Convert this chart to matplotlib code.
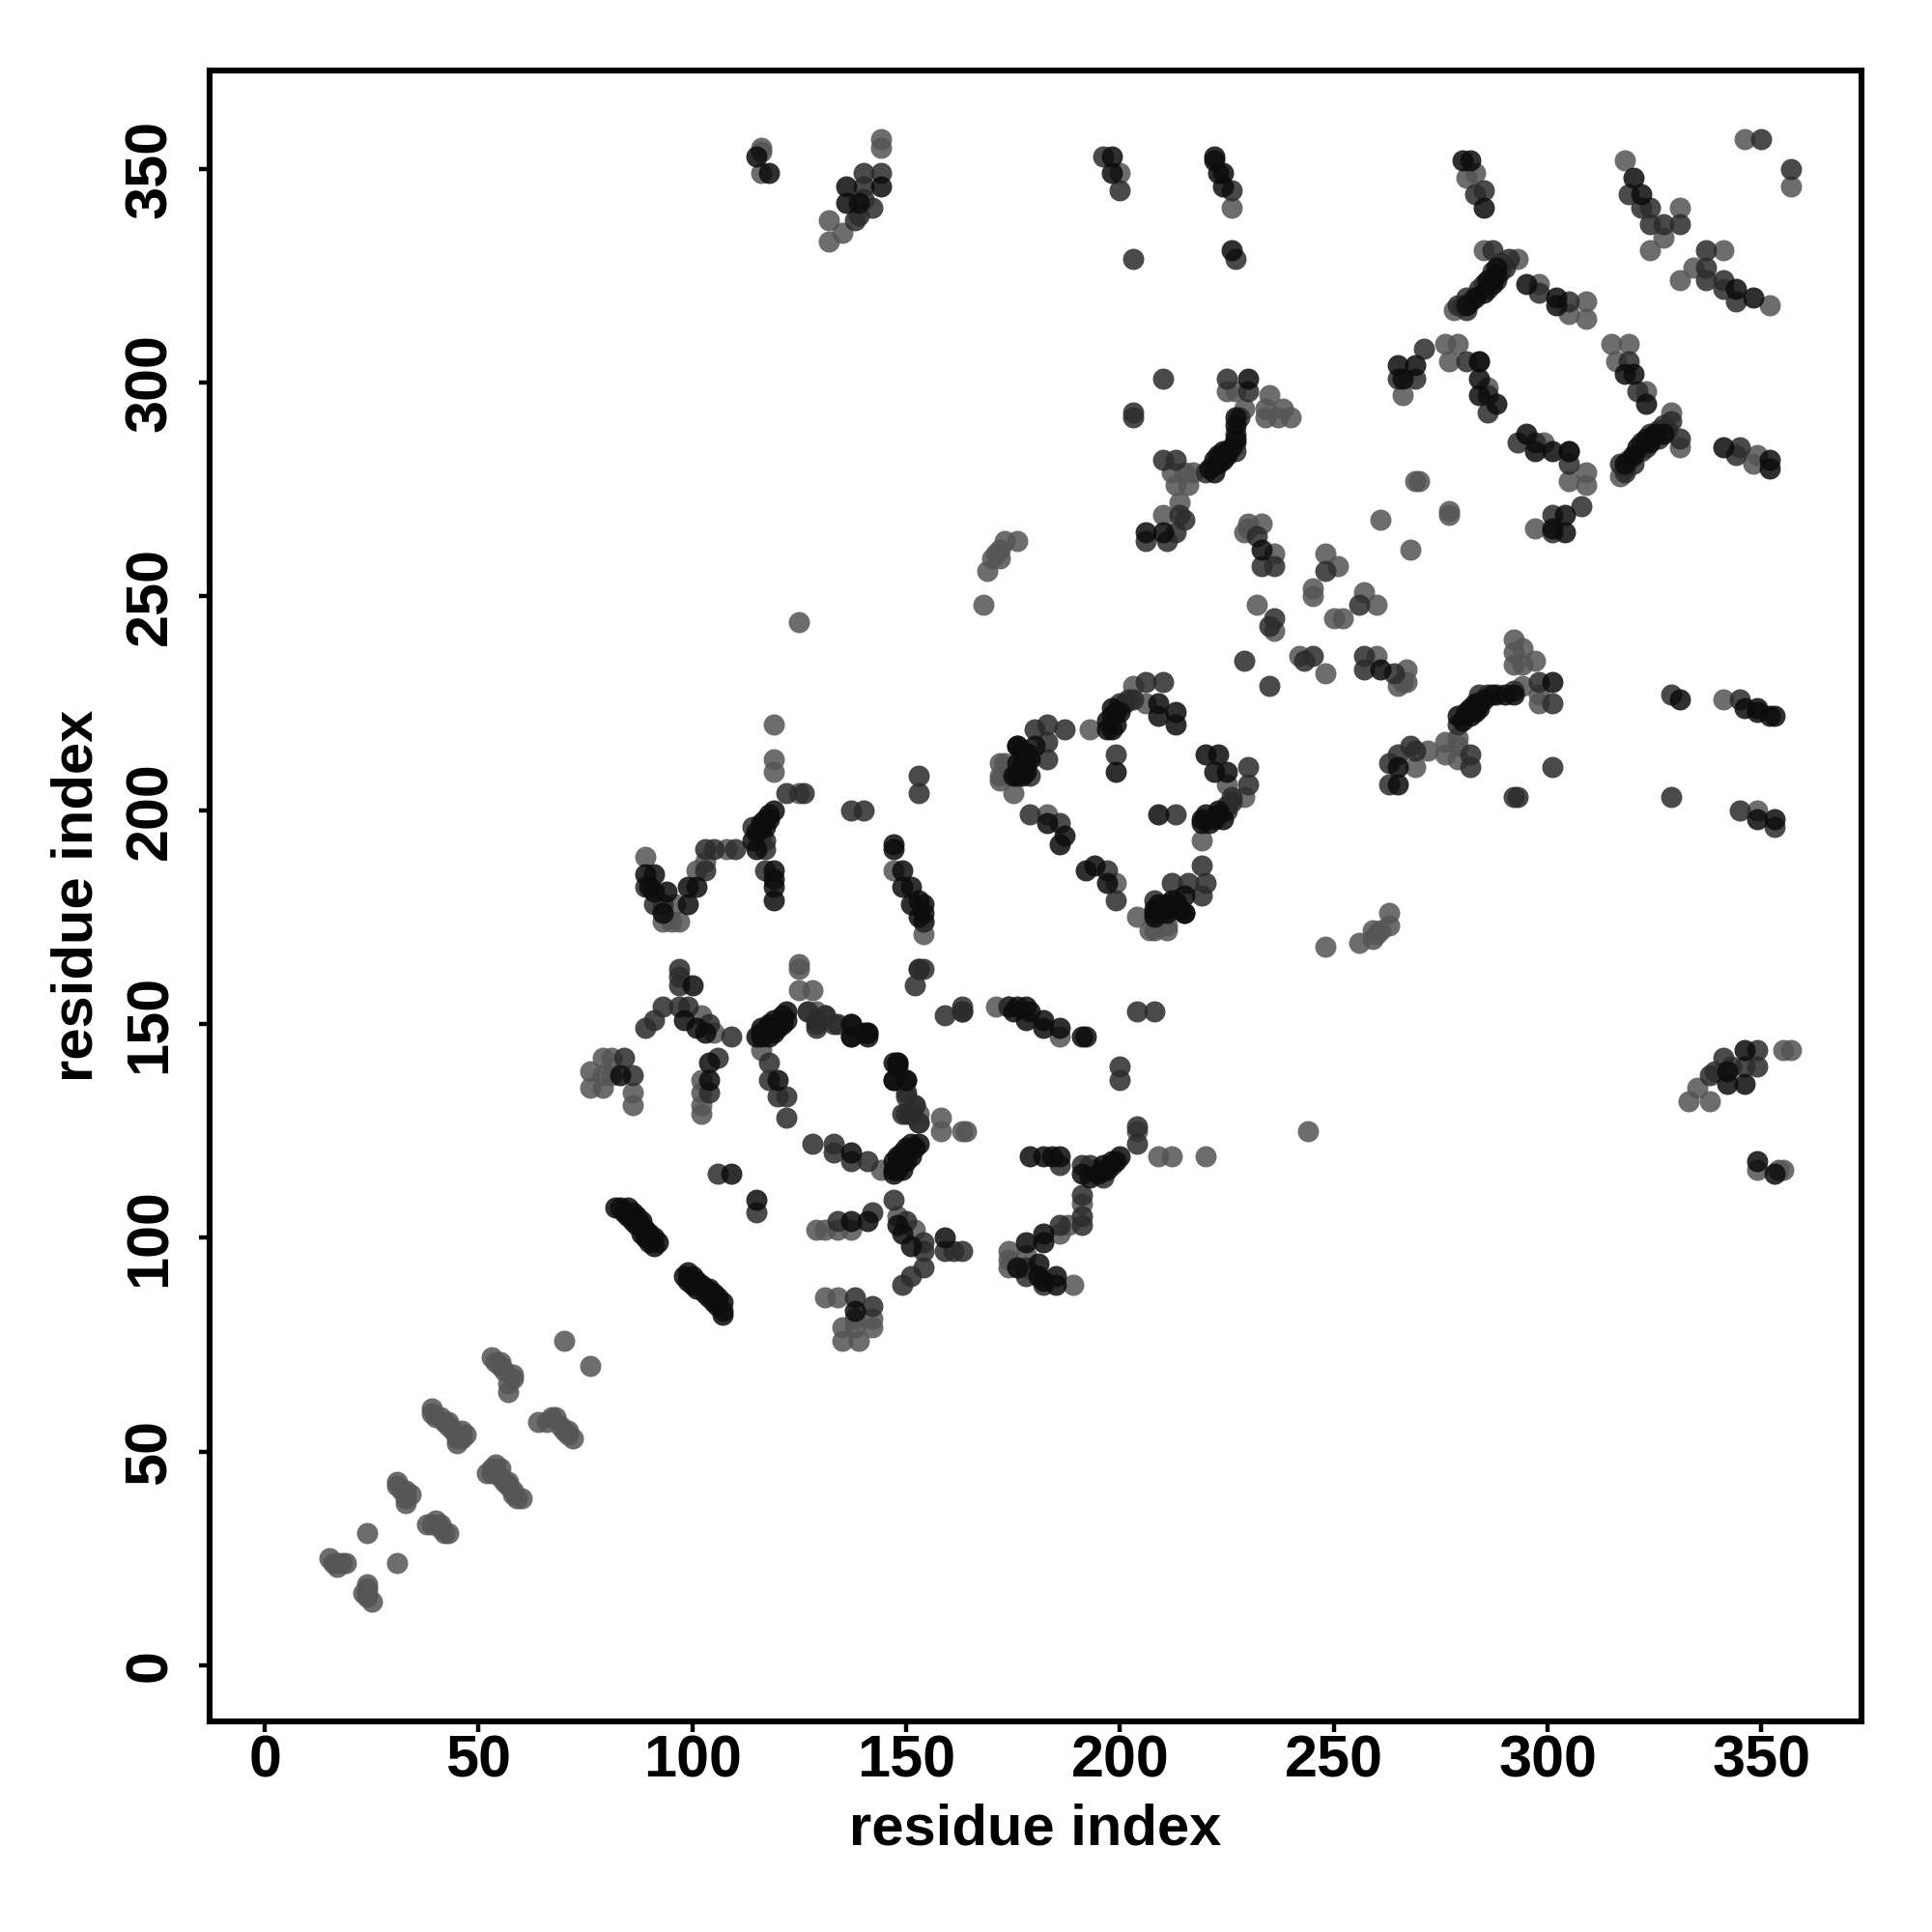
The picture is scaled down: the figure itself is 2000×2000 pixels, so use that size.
import matplotlib
matplotlib.use("Agg")
import matplotlib.pyplot as plt

plt.rcParams['font.family'] = ['Liberation Sans', 'DejaVu Sans']

light_pts = [
 (24,16),(24,17),(24,18),(24,19),(25,15),(23,17),(31,24),
 (38,33),(39,33),(40,34),(41,33),(41,32),(42,31),(43,31),
 (52,45),(53,45),(54,47),(53,46),(55,44),(55,46),(56,43),(57,42),(57,43),(58,41),(58,40),(59,39),(60,39),
 (64,57),(66,57),(67,58),(68,58),(69,56),(70,55),(71,55),(71,54),(72,53),(76,70),
 (204,175),(207,172),(208,172),(211,172),(211,173),(171,154),(204,125),
 (209,119),(212,119),(220,119),(191,108),(188,103),(186,101),
 (174,97),(174,95),(174,93),(178,96),(189,89),(186,147),
 (152,131),(153,129),(153,127),(158,128),(158,125),(164,125),(163,125),(144,116),(148,105),(152,102),
 (129,102),(131,102),(134,102),(137,102),(131,86),(134,86),(142,81),(138,81),(135,79),(138,79),(142,79),(135,76),(139,76),
 (199,183),(219,193),(225,206),(229,203),
 (260,248),(257,251),(252,245),(250,245),(268,261),(277,270),(277,269),
 (305,277),(309,279),(309,276),(297,266),(299,286),(305,284),(317,278),(331,285),
 (292,240),(294,238),(292,237),(292,234),(297,235),(294,234),(298,225),(294,229),(298,227),
 (279,217),(276,216),(279,215),(276,213),(279,212),(272,214),(269,210),
 (341,226),(349,200),(349,116),(355,116),(354,116),(333,132),(335,135),(338,132),(355,144),(357,144),
 (357,346),(352,318),(334,327),(331,324),(341,331),(329,293),(349,283),(348,281),(319,309),(315,309),(316,305),(323,298),
 (244,125),(248,168),(256,169),(259,170),(259,172),(261,172),(263,173),(263,176),(260,171),
 (242,236),(248,232),(260,236),(267,233),(267,230),(265,229),(266,230),
]

mid_pts = [
 (154,174),(153,163),(163,154),(163,153),(159,152),(174,154),(204,153),(208,153),(200,140),(200,137),
 (204,126),(204,122),(193,117),(191,117),(196,114),(191,110),(191,105),(191,103),(186,103),
 (186,117),(178,93),(178,91),(182,89),
 (137,150),(134,150),(137,147),(129,151),(131,152),(127,153),(129,149),(150,133),(150,129),
 (128,122),(133,122),(133,120),(137,118),(141,118),
 (147,109),(115,106),(150,104),(154,99),(154,97),(154,93),(151,91),(149,89),(159,97),(161,97),(163,97),(134,104),(142,106),(138,86),(142,84),
 (230,210),(230,206),(226,203),(225,200),(213,199),(219,187),(220,183),(216,183),(212,183),(219,180),(208,179),(197,186),(199,179),
 (293,286),(297,286),(301,269),(301,265),(308,271),(305,281),
 (317,281),(331,287),(324,288),(345,285),(344,283),(327,290),(329,291),(318,279),
 (357,350),(341,324),(337,327),(337,324),(337,331),(344,319),(341,322),(319,305),(321,298),
 (298,230),(292,228),(286,227),(284,227),(279,220),(282,213),(282,210),(269,214),(268,215),(265,213),(263,211),(263,206),
 (301,225),(301,210),(292,203),(293,203),(329,203),(329,227),(345,226),(345,200),(353,196),
 (338,138),(341,142),(349,144),(349,140),(346,140),(343,140),(339,139),
 (245,236),(243,235),(256,248),(257,236),(257,233),(264,232),(235,229),
 (319,282),(322,284),(323,285),(326,287),(328,289),(326,289),(320,281),(322,286),(324,287),(318,280),
 (226,202),(225,201),(194,116),(198,117),(213,179),(288,227),
]

dark_pts = [
 (208,175),(208,176),(208,177),(211,176),(215,176),(154,176),
 (175,153),(178,154),(179,153),(178,151),(182,151),(182,149),(186,149),(191,147),(192,147),
 (200,119),(198,118),(196,117),(197,116),(191,115),(193,114),(182,101),(182,99),(178,99),
 (179,119),(182,119),(184,119),(186,119),(181,94),(181,91),(182,90),(185,91),(185,89),(176,93),
 (141,148),(141,147),(147,137),(148,141),(148,140),(150,137),
 (137,120),(153,122),(151,122),(151,119),(148,119),(149,118),(147,118),(147,115),(149,116),
 (115,109),(148,103),(149,101),(151,98),(159,100),(137,104),(141,104),(138,83),
 (98,91),(99,92),(99,90),(100,91),(100,89),(101,90),(101,88),(102,89),(103,88),(103,87),(104,88),(104,86),(105,87),(105,85),(106,86),(106,84),(107,85),(107,83),(107,82),
 (220,213),(223,213),(225,209),(222,209),(223,200),(220,199),(221,197),(224,198),(219,197),(209,199),
 (215,180),(215,176),(212,179),(194,187),(192,186),(197,183),(211,177),
 (295,288),(301,284),(297,284),(305,284),(304,269),(301,266),(304,265),
 (318,281),(320,283),(321,285),(324,286),(327,288),(323,287),(325,288),(341,285),(352,280),(352,282),
 (318,302),(320,302),(323,295),(348,320),(344,322),
 (301,230),(292,227),(290,227),(284,225),(282,224),(282,222),(279,222),(283,223),(265,210),(265,206),
 (331,226),(346,224),(349,224),(349,223),(352,222),(353,222),(349,198),(353,198),(349,118),(353,115),(342,136),(346,136),(346,144),(342,139),
 (261,233),
 (281,223),(284,224),(285,226),(287,227),(280,221),(283,225),
 (222,198),(223,199),(219,198),(209,178),(210,177),(211,178),(214,177),
 (148,117),(149,120),(150,121),(147,116),(148,116),(150,118),(152,121),
 (195,115),(196,116),(199,118),
]

tick_values = [0, 50, 100, 150, 200, 250, 300, 350]
axis_label = "residue index"

fig = plt.figure(figsize=(20, 20), dpi=100)
ax = fig.add_axes([217/2000, 1-1782/2000, (1927-217)/2000, (1782-73)/2000])

groups = [(light_pts, '#555555'), (mid_pts, '#2c2c2c'), (dark_pts, '#0c0c0c')]
for pts, color in groups:
    xs = [p[0] for p in pts] + [p[1] for p in pts]
    ys = [p[1] for p in pts] + [p[0] for p in pts]
    ax.scatter(xs, ys, s=250, c=color, alpha=0.86, linewidths=0, zorder=3)

ax.set_xlim(-12.9, 373.4)
ax.set_ylim(-13.1, 373.0)
ax.set_xticks(tick_values)
ax.set_yticks(tick_values)
ax.tick_params(axis='x', length=8, width=3.2, labelsize=44, pad=2)
ax.tick_params(axis='y', length=8, width=3.2, labelsize=44, pad=15)
for lab in ax.get_xticklabels():
    lab.set_fontweight('bold')
for lab in ax.get_yticklabels():
    lab.set_fontweight('bold')
    lab.set_rotation(90)
    lab.set_va('center')
ax.set_xlabel(axis_label, fontsize=43, fontweight='bold', labelpad=10)
ax.set_ylabel(axis_label, fontsize=43, fontweight='bold', labelpad=15)
for s in ax.spines.values():
    s.set_linewidth(4.4)

fig.savefig("out.png", dpi=100, facecolor='white')
